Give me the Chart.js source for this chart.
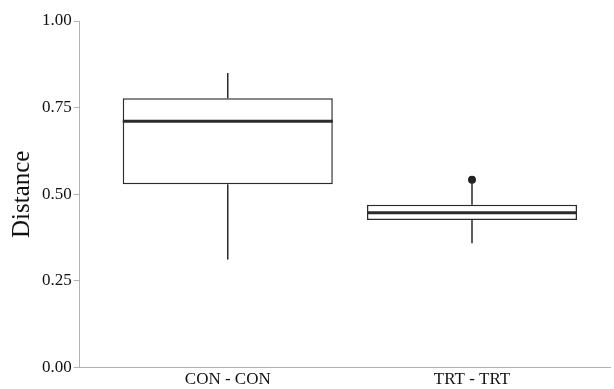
<!DOCTYPE html>
<html><head><meta charset="utf-8">
<script src="https://cdn.jsdelivr.net/npm/chart.js@4"></script>
<style>html,body{margin:0;padding:0;background:#fff;}#c{display:block;}</style>
</head><body>
<canvas id="c" width="614" height="389"></canvas>
<script>
const categories = ['CON - CON', 'TRT - TRT'];
const positions = [1, 2];
const q1 = [0.529, 0.426];
const median = [0.711, 0.447];
const q3 = [0.777, 0.470];
const whiskerLow = [0.312, 0.359];
const whiskerHigh = [0.850, 0.538];
const outliers = [[], [0.542]];
const yTicks = [0, 0.25, 0.5, 0.75, 1.0];

const serif = '"Liberation Serif", "Times New Roman", serif';
const axisGray = '#b3b3b3';
const ink = '#2b2b2b';

const boxPlugin = {
  id: 'boxparts',
  afterDatasetsDraw(chart) {
    const ctx = chart.ctx, xs = chart.scales.x, ys = chart.scales.y;
    const meta = chart.getDatasetMeta(0);
    ctx.save();
    ctx.strokeStyle = ink;
    positions.forEach((p, i) => {
      const bar = meta.data[i];
      const half = bar.width / 2;
      const cx = xs.getPixelForValue(p);
      ctx.lineWidth = 1.5;
      ctx.beginPath();
      ctx.moveTo(cx, ys.getPixelForValue(q3[i]));
      ctx.lineTo(cx, ys.getPixelForValue(whiskerHigh[i]));
      ctx.moveTo(cx, ys.getPixelForValue(q1[i]));
      ctx.lineTo(cx, ys.getPixelForValue(whiskerLow[i]));
      ctx.stroke();
      ctx.lineWidth = 3;
      ctx.beginPath();
      const my = ys.getPixelForValue(median[i]);
      ctx.moveTo(cx - half, my);
      ctx.lineTo(cx + half, my);
      ctx.stroke();
    });
    ctx.restore();
  }
};

const boxData = positions.map((p, i) => ({x: p, y: [q1[i], q3[i]]}));
const outlierData = [];
positions.forEach((p, i) => outliers[i].forEach(v => outlierData.push({x: p, y: v})));

new Chart(document.getElementById('c'), {
  type: 'bar',
  data: {
    datasets: [
      {
        type: 'bar',
        data: boxData,
        backgroundColor: '#ffffff',
        borderColor: ink,
        borderWidth: 1.5,
        borderSkipped: false,
        categoryPercentage: 1,
        barPercentage: 0.86
      },
      {
        type: 'scatter',
        data: outlierData,
        pointRadius: 4,
        pointBackgroundColor: '#222',
        pointBorderColor: '#222',
        pointBorderWidth: 0
      }
    ]
  },
  options: {
    responsive: false,
    animation: false,
    devicePixelRatio: 1,
    layout: {padding: {top: 21, right: 2, left: 0, bottom: -3}},
    plugins: {legend: {display: false}, tooltip: {enabled: false}},
    scales: {
      x: {
        type: 'linear',
        offset: false,
        min: 0.394,
        max: 2.565,
        afterBuildTicks(axis) { axis.ticks = positions.map(v => ({value: v})); },
        ticks: {
          callback: (v) => { const i = positions.indexOf(v); return i >= 0 ? categories[i] : ''; },
          color: '#111',
          font: {family: serif, size: 17},
          padding: 2,
          maxRotation: 0,
          autoSkip: false
        },
        grid: {display: true, drawOnChartArea: false, drawTicks: false, color: axisGray},
        border: {display: true, color: axisGray, width: 1}
      },
      y: {
        min: 0,
        max: 1,
        afterBuildTicks(axis) { axis.ticks = yTicks.map(v => ({value: v})); },
        ticks: {
          callback: (v) => Number(v).toFixed(2),
          color: '#111',
          font: {family: serif, size: 17},
          padding: 2
        },
        grid: {display: true, drawOnChartArea: false, drawTicks: true, tickLength: 6, color: axisGray},
        border: {display: true, color: axisGray, width: 1},
        title: {display: true, text: 'Distance', color: '#111', font: {family: serif, size: 25}, padding: {top: 7, bottom: 3}}
      }
    }
  },
  plugins: [boxPlugin]
});
</script>
</body></html>
